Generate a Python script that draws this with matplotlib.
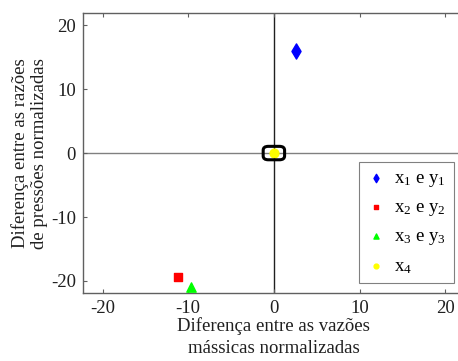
import numpy as np
import matplotlib
matplotlib.use("Agg")
import matplotlib.pyplot as plt
from matplotlib.patches import FancyBboxPatch

plt.rcParams['font.family'] = ['Liberation Serif', 'DejaVu Serif']
plt.rcParams['mathtext.fontset'] = 'custom'
plt.rcParams['mathtext.rm'] = 'Liberation Serif'
plt.rcParams['axes.unicode_minus'] = False

# data
x1, y1 = [2.6], [15.9]
x2, y2 = [-11.2], [-19.4]
x3, y3 = [-9.7], [-21.0]
x4, y4 = [0.0], [0.0]
labels = [r'$\mathregular{x_1}$ e $\mathregular{y_1}$',
          r'$\mathregular{x_2}$ e $\mathregular{y_2}$',
          r'$\mathregular{x_3}$ e $\mathregular{y_3}$',
          r'$\mathregular{x_4}$']
ticks = [-20, -10, 0, 10, 20]

fig = plt.figure(figsize=(4.58, 3.61), dpi=100)
ax = fig.add_axes([0.181, 0.188, 0.834, 0.776])

ax.axhline(0, color='#808080', lw=1.0, zorder=1)
ax.axvline(0, color='#202020', lw=1.0, zorder=1)

ax.scatter(x1, y1, marker='d', s=60, color='#0000ff', label=labels[0], zorder=3)
ax.scatter(x2, y2, marker='s', s=30, color='#ff0000', label=labels[1], zorder=3)
ax.scatter(x3, y3, marker='^', s=45, color='#00ff00', label=labels[2], zorder=3)
ax.scatter(x4, y4, marker='o', s=40, color='#ffff00', label=labels[3], zorder=3)

box = FancyBboxPatch((-1.0, -0.8), 2.0, 1.6,
                     boxstyle='round,pad=0.25,rounding_size=0.6',
                     fill=False, ec='black', lw=2.2, zorder=4)
ax.add_patch(box)

ax.set_xlim(-22.3, 22.3)
ax.set_ylim(-21.9, 21.9)
ax.set_xticks(ticks)
ax.set_yticks(ticks)
ax.tick_params(direction='in', length=3, top=True, right=True,
               labelsize=13.5, labelcolor='#202020', width=0.8, pad=5)
ax.tick_params(axis='both', color='#606060')
for sp in ax.spines.values():
    sp.set_color('#606060')
    sp.set_linewidth(1.0)

ax.set_xlabel('Diferença entre as vazões\nmássicas normalizadas', fontsize=13.5,
              linespacing=1.4, labelpad=0, color='#202020')
ax.set_ylabel('Diferença entre as razões\nde pressões normalizadas', fontsize=13.5,
              linespacing=1.2, labelpad=2, color='#202020')

leg = ax.legend(loc='lower right', bbox_to_anchor=(0.971, 0.036), fontsize=13.5,
                fancybox=False, edgecolor='#808080', framealpha=1,
                handletextpad=0.5, labelspacing=0.55, borderpad=0.4,
                handlelength=1.0, markerscale=0.55, borderaxespad=0)
leg.get_frame().set_linewidth(0.8)

fig.savefig('out.png', dpi=100)
